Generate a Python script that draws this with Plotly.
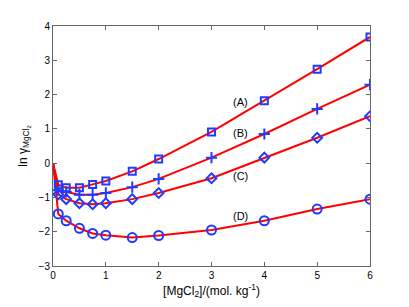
import plotly.graph_objects as go

molality = [0.1, 0.25, 0.5, 0.75, 1.0, 1.5, 2.0, 3.0, 4.0, 5.0, 6.0]
series_A = [-0.63, -0.72, -0.72, -0.62, -0.52, -0.24, 0.12, 0.91, 1.82, 2.74, 3.68]
series_B = [-0.79, -0.84, -0.92, -0.92, -0.87, -0.70, -0.46, 0.16, 0.85, 1.58, 2.29]
series_C = [-0.91, -1.05, -1.17, -1.20, -1.17, -1.05, -0.87, -0.44, 0.16, 0.74, 1.37]
series_D = [-1.48, -1.68, -1.90, -2.05, -2.10, -2.17, -2.11, -1.95, -1.68, -1.34, -1.05]
origin_m = 0.0
origin_val = 0.0
labels = ["(A)", "(B)", "(C)", "(D)"]
label_x = [3.54, 3.54, 3.54, 3.54]
label_y = [1.79, 0.87, -0.37, -1.54]

blue = "rgb(30,60,255)"
red = "rgb(255,0,0)"
font = "Liberation Sans, Arial, sans-serif"

fig = go.Figure()
series = [(series_A, "square-open", 7), (series_B, "cross-thin-open", 8),
          (series_C, "diamond-open", 7.5), (series_D, "circle-open", 9)]
for vals, sym, sz in series:
    fig.add_trace(go.Scatter(x=[origin_m] + molality, y=[origin_val] + vals, mode="lines",
                             line=dict(color=red, width=2), showlegend=False, hoverinfo="skip"))
for vals, sym, sz in series:
    fig.add_trace(go.Scatter(x=molality, y=vals, mode="markers",
                             marker=dict(symbol=sym, size=sz, color=blue,
                                         line=dict(color=blue, width=2)),
                             showlegend=False))

for t, xx, yy in zip(labels, label_x, label_y):
    fig.add_annotation(x=xx, y=yy, text=t, showarrow=False,
                       font=dict(family=font, size=11, color="black"))

axis_common = dict(showgrid=False, zeroline=False, showline=True, linecolor="#666",
                   linewidth=1, mirror="ticks", ticks="inside", ticklen=4,
                   tickcolor="#666", tickfont=dict(family=font, size=10, color="black"))
fig.update_xaxes(range=[0, 6], dtick=1, tick0=0,
                 title=dict(text="[MgCl<sub>2</sub>]/(mol. kg<sup>-1</sup>)",
                            font=dict(family=font, size=12, color="black"), standoff=6),
                 **axis_common)
fig.update_yaxes(range=[-3, 4], dtick=1, tick0=0,
                 title=dict(text="ln γ<sub>MgCl<sub>2</sub></sub>",
                            font=dict(family=font, size=12, color="black"), standoff=8),
                 **axis_common)
fig.update_layout(width=401, height=299, margin=dict(l=45, r=39, t=15, b=38),
                  plot_bgcolor="white", paper_bgcolor="white")
fig.write_html("out.html")
